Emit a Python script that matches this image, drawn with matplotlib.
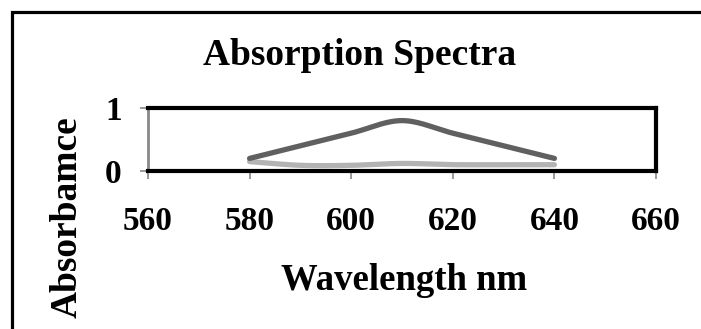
import matplotlib
matplotlib.use("Agg")
import matplotlib.pyplot as plt
import numpy as np
from matplotlib.patches import Rectangle

wavelength = [580, 590, 600, 610, 620, 630, 640]
series_dark = [0.2, 0.4, 0.6, 0.8, 0.6, 0.4, 0.2]
series_light = [0.15, 0.09, 0.09, 0.12, 0.1, 0.1, 0.1]
xticks = [560, 580, 600, 620, 640, 660]
yticks = [0, 1]

plt.rcParams['font.family'] = ['Liberation Serif', 'DejaVu Serif']
plt.rcParams['font.weight'] = 'bold'

W, H = 701, 329
fig = plt.figure(figsize=(W/100, H/100), dpi=100)
fig.patches.append(Rectangle((11.5/W, -0.1), 1.0, 1 - 11.5/H + 0.1, transform=fig.transFigure,
                             fill=False, edgecolor='black', linewidth=2.3))

ax = fig.add_axes([148/W, 1 - 171/H, (656 - 148)/W, (171 - 108)/H])


def smooth(x, y):
    x = np.asarray(x, float); y = np.asarray(y, float)
    pts = np.column_stack([x, y])
    P = np.vstack([pts[0], pts, pts[-1]])
    out = []
    for i in range(1, len(P) - 2):
        p0, p1, p2, p3 = P[i-1], P[i], P[i+1], P[i+2]
        t = np.linspace(0, 1, 30)[:, None]
        seg = 0.5 * ((2*p1) + (-p0 + p2)*t + (2*p0 - 5*p1 + 4*p2 - p3)*t**2
                     + (-p0 + 3*p1 - 3*p2 + p3)*t**3)
        out.append(seg)
    o = np.vstack(out)
    return o[:, 0], o[:, 1]

xs, ys = smooth(wavelength, series_light)
ax.plot(xs, ys, color='#b3b3b3', linewidth=3.8, solid_capstyle='round')
xs, ys = smooth(wavelength, series_dark)
ax.plot(xs, ys, color='#606060', linewidth=3.8, solid_capstyle='round')

ax.set_xlim(560, 660)
ax.set_ylim(0, 1)
ax.set_xticks(xticks)
ax.set_yticks(yticks)
ax.set_xticklabels([str(v) for v in xticks], fontsize=24, fontweight='bold')
ax.set_yticklabels([str(v) for v in yticks], fontsize=24, fontweight='bold')
ax.tick_params(axis='both', direction='out', length=6, width=1.2, color='#888888')
ax.tick_params(axis='x', pad=19)
ax.tick_params(axis='y', pad=13)
for s in ax.spines.values():
    s.set_linewidth(3)
    s.set_color('black')
ax.spines['left'].set_color('#888888')
ax.spines['left'].set_linewidth(2)

fig.text(360/W, 1 - 65/H, 'Absorption Spectra', ha='center', va='baseline',
         fontsize=27, fontweight='bold')
fig.text(404/W, 1 - 290/H, 'Wavelength nm', ha='center', va='baseline',
         fontsize=26.5, fontweight='bold')
fig.text(67/W, 1 - 217/H, 'Absorbamce', ha='center', va='center', rotation=90,
         fontsize=27, fontweight='bold')

fig.savefig('out.png', dpi=100)
